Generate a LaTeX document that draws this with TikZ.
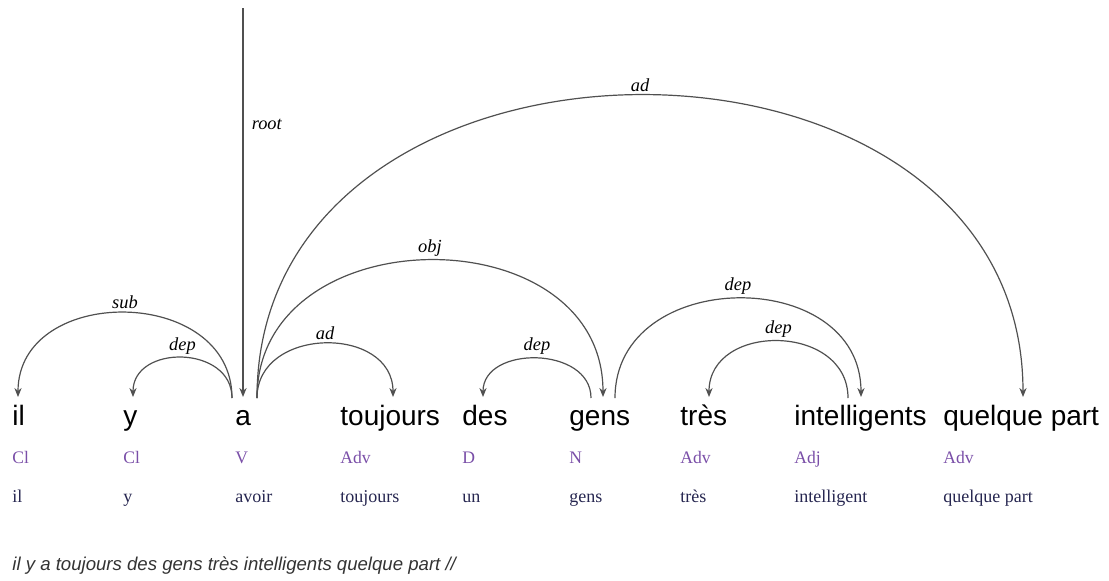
\documentclass[tikz,border=0pt]{standalone}
\usepackage{fontspec}
\usepackage{tikz}
\usetikzlibrary{arrows.meta,calc}

\newfontfamily\dgsans{Liberation Sans}
\newfontfamily\dgserif{Liberation Serif}
\newcommand\dgword{\dgsans\fontsize{14}{16}\selectfont}
\newcommand\dgpos{\dgserif\fontsize{8.8}{10}\selectfont}
\newcommand\dglem{\dgserif\fontsize{9}{10}\selectfont}
\newcommand\dgrel{\dgserif\itshape\fontsize{9.2}{10}\selectfont}
\newcommand\dgsent{\dgsans\itshape\fontsize{9.3}{11}\selectfont}

\definecolor{catpurple}{HTML}{7A4FA8}
\definecolor{lemnavy}{HTML}{262650}
\definecolor{arcgray}{HTML}{505050}
\definecolor{sentgray}{HTML}{333333}

\begin{document}
\begin{tikzpicture}[x=0.5pt,y=-0.5pt,
                word/.style={anchor=base west,inner sep=0pt,font=\dgword},
                cat/.style={anchor=base west,inner sep=0pt,font=\dgpos,text=catpurple},
                lemma/.style={anchor=base west,inner sep=0pt,font=\dglem,text=lemnavy},
                rel/.style={above,inner sep=1.5pt,font=\dgrel},
                deparc/.style={draw=arcgray,line width=0.6pt,-{Stealth[length=4.5pt,width=3.6pt]}}
            ]
                \useasboundingbox (0,0) rectangle (1109,580);

                % words, categories, lemmas
                \node[word] (il) at (12,425) {il};
                \node[word] (y) at (123,425) {y};
                \node[word] (a) at (235,425) {a};
                \node[word] (toujours) at (340,425) {toujours};
                \node[word] (des) at (462,425) {des};
                \node[word] (gens) at (569,425) {gens};
                \node[word] (tres) at (680,425) {très};
                \node[word] (intel) at (794,425) {intelligents};
                \node[word] (qp) at (943,425) {quelque part};

                \node[cat] (il-cat) at (12,463) {Cl};
                \node[cat] (y-cat) at (123,463) {Cl};
                \node[cat] (a-cat) at (235,463) {V};
                \node[cat] (toujours-cat) at (340,463) {Adv};
                \node[cat] (des-cat) at (462,463) {D};
                \node[cat] (gens-cat) at (569,463) {N};
                \node[cat] (tres-cat) at (680,463) {Adv};
                \node[cat] (intel-cat) at (794,463) {Adj};
                \node[cat] (qp-cat) at (943,463) {Adv};

                \node[lemma] (il-lem) at (12,502) {il};
                \node[lemma] (y-lem) at (123,502) {y};
                \node[lemma] (a-lem) at (235,502) {avoir};
                \node[lemma] (toujours-lem) at (340,502) {toujours};
                \node[lemma] (des-lem) at (462,502) {un};
                \node[lemma] (gens-lem) at (569,502) {gens};
                \node[lemma] (tres-lem) at (680,502) {très};
                \node[lemma] (intel-lem) at (794,502) {intelligent};
                \node[lemma] (qp-lem) at (943,502) {quelque part};

                % arc ends above the words
                \coordinate (top) at (243,8);
                \coordinate (a-in) at (243,397);
                \coordinate (a-l) at (232,398);
                \coordinate (a-r) at (257,398);
                \coordinate (il-in) at (18,397);
                \coordinate (y-in) at (133,397);
                \coordinate (toujours-in) at (393,397);
                \coordinate (des-in) at (483,397);
                \coordinate (gens-l) at (591,398);
                \coordinate (gens-in) at (603,397);
                \coordinate (gens-r) at (615,398);
                \coordinate (tres-in) at (709,397);
                \coordinate (intel-out) at (848,398);
                \coordinate (intel-in) at (861,397);
                \coordinate (qp-in) at (1023,397);

                \draw [deparc,line width=0.8pt] (top) -- node[right,pos=0.3,font=\dgrel,inner sep=4pt]{root} (a-in);

                \draw [deparc] (a-l) .. controls +(0,-113) and +(0,-113) .. node[rel,pos=0.5]{sub} (il-in);
                \draw [deparc] (a-l) .. controls +(0,-53) and +(0,-53) .. node[rel,pos=0.5]{dep} (y-in);
                \draw [deparc] (a-r) .. controls +(0,-72) and +(0,-72) .. node[rel,pos=0.5]{ad} (toujours-in);
                \draw [deparc] (a-r) .. controls +(0,-183) and +(0,-183) .. node[rel,pos=0.5]{obj} (gens-in);
                \draw [deparc] (a-r) .. controls +(0,-403) and +(0,-403) .. node[rel,pos=0.5]{ad} (qp-in);
                \draw [deparc] (gens-l) .. controls +(0,-52) and +(0,-52) .. node[rel,pos=0.5]{dep} (des-in);
                \draw [deparc] (gens-r) .. controls +(0,-132) and +(0,-132) .. node[rel,pos=0.5]{dep} (intel-in);
                \draw [deparc] (intel-out) .. controls +(0,-75) and +(0,-75) .. node[rel,pos=0.5]{dep} (tres-in);

                \node[anchor=base west,inner sep=0pt,font=\dgsent,text=sentgray] (sentence) at (12,570)
                    {il y a toujours des gens très intelligents quelque part //};
            \end{tikzpicture}
\end{document}
